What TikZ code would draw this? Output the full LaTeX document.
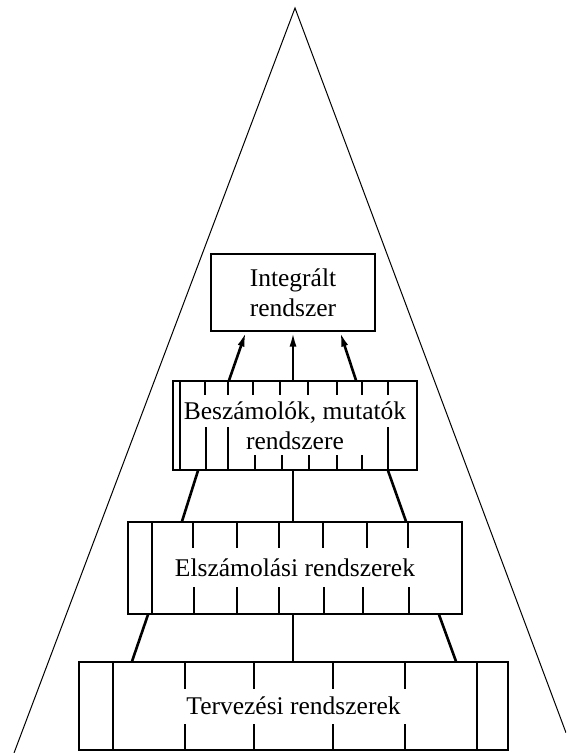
\documentclass[tikz,border=0pt]{standalone}
\usepackage{fontspec}
\setmainfont{Liberation Serif}
\usetikzlibrary{arrows.meta,calc}
\begin{document}
\begin{tikzpicture}[x=1pt,y=-1pt,
  box/.style={draw, line width=1.3pt, inner sep=0pt, align=center,
              font=\fontsize{25.5}{30}\selectfont},
  tick/.style={line width=1.3pt},
  link/.style={line width=2.6pt},
  uplink/.style={link, -{Latex[length=15pt,width=7pt]}},
  hull/.style={line width=1pt}]
\useasboundingbox (0,0) rectangle (566,753);

% enclosing pyramid
\begin{scope}
  \clip (0,0) rectangle (566,753);
  \draw[hull] (14,753) -- (295,8) -- (566,732.7);
\end{scope}

% the four levels
\node[box, minimum width=164pt, minimum height=77pt] (int) at (293,292.5)
  {Integrált\\rendszer};
\node[box, minimum width=244pt, minimum height=89pt] (bes) at (295,425.5)
  {Beszámolók, mutatók\\rendszere};
\node[box, minimum width=334pt, minimum height=92pt] (ela) at (295,568)
  {Elszámolási rendszerek};
\node[box, minimum width=429pt, minimum height=88pt] (ter) at (293.5,706)
  {Tervezési rendszerek};

% ruling of the reporting box
\draw[tick] (180,381) -- (180,470);
\foreach \x in {205,228,253,280,308,337,362,388}
  \draw[tick] (\x,381) -- (\x,395);
\foreach \x in {206,228,388}
  \draw[tick] (\x,427) -- (\x,470);
\foreach \x in {255,282,309,337,362}
  \draw[tick] (\x,455) -- (\x,470);

% ruling of the accounting box
\draw[tick] (152,522) -- (152,614);
\foreach \x in {193,237,279,323,367,408}
  \draw[tick] (\x,522) -- (\x,548);
\foreach \x in {194,237,279,324,363,409}
  \draw[tick] (\x,587) -- (\x,614);

% ruling of the planning box
\draw[tick] (113,662) -- (113,750);
\draw[tick] (477,662) -- (477,750);
\foreach \x in {185,254,333,405} {
  \draw[tick] (\x,662) -- (\x,689);
  \draw[tick] (\x,724) -- (\x,750);
}

% links between the levels
\draw[uplink] ([xshift=-66pt]bes.north) -- ([xshift=-47pt]int.south);
\draw[uplink] ([xshift=-2pt]bes.north) -- (int.south);
\draw[uplink] ([xshift=61pt]bes.north) -- ([xshift=47pt]int.south);

\draw[link] ([xshift=-97pt]bes.south) -- ([xshift=-113pt]ela.north);
\draw[link] ([xshift=-2pt]bes.south) -- ([xshift=-2pt]ela.north);
\draw[link] ([xshift=93pt]bes.south) -- ([xshift=111pt]ela.north);

\draw[link] ([xshift=-147pt]ela.south) -- ([xshift=-161.5pt]ter.north);
\draw[link] ([xshift=-2pt]ela.south) -- ([xshift=-0.5pt]ter.north);
\draw[link] ([xshift=144pt]ela.south) -- ([xshift=162.5pt]ter.north);
\end{tikzpicture}
\end{document}
